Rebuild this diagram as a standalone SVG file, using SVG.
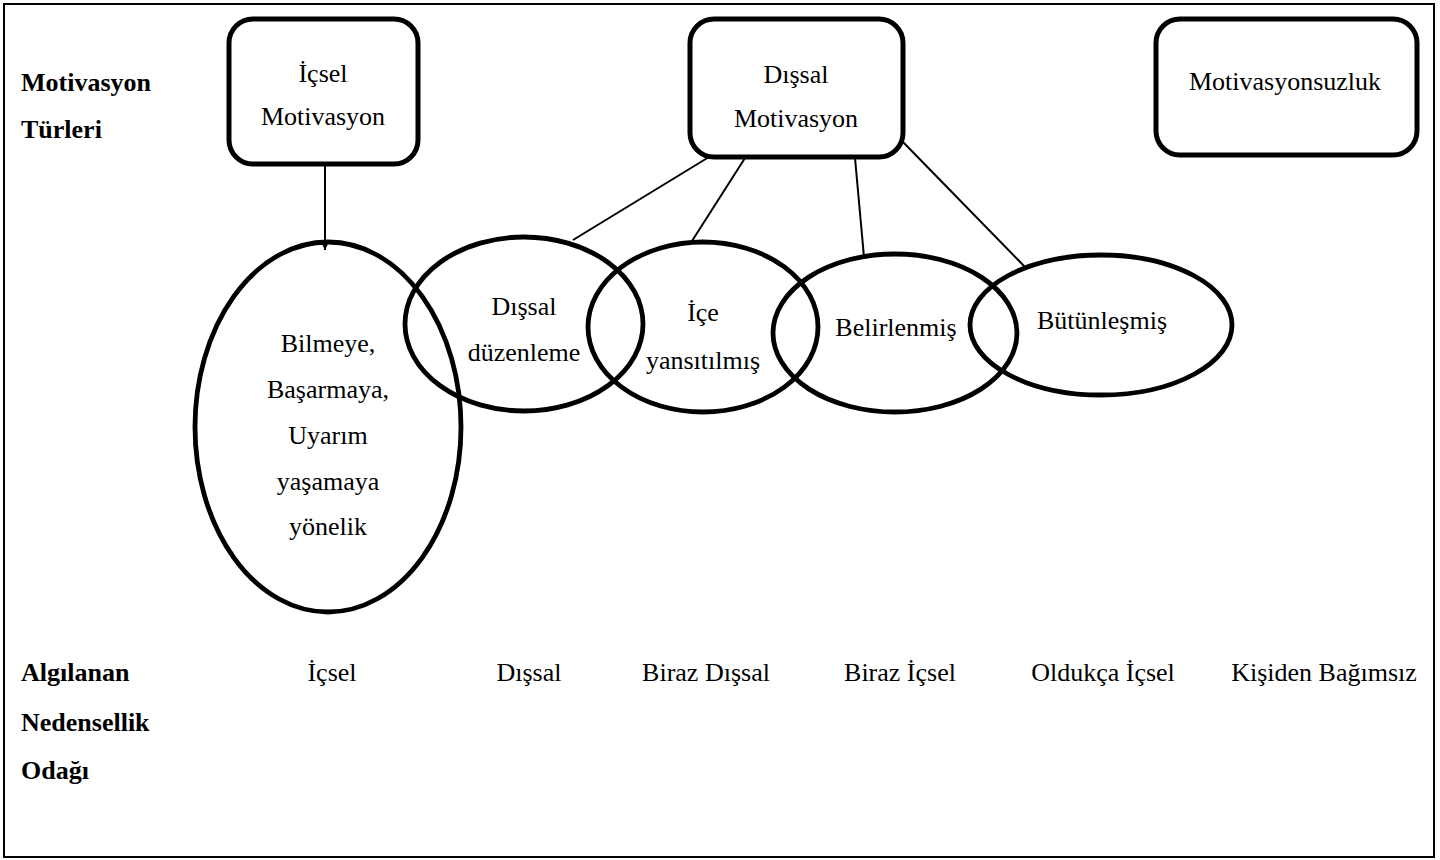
<svg xmlns="http://www.w3.org/2000/svg" width="1440" height="860" viewBox="0 0 1440 860">
<style>
text{font-family:"Liberation Serif","Times New Roman",Times,serif;font-size:26px;fill:#000}
.t{text-anchor:middle}
.b{font-weight:bold}
.box{fill:#fff;stroke:#000;stroke-width:5}
.ell{fill:none;stroke:#000;stroke-width:4.8}
.ln{stroke:#000;stroke-width:2;fill:none}
</style>
<defs>
<marker id="ah" markerWidth="12" markerHeight="12" refX="10" refY="5" orient="auto" markerUnits="userSpaceOnUse">
<path d="M0,0 L10,5 L0,10 Z" fill="#000"/>
</marker>
</defs>
<rect x="0" y="0" width="1440" height="860" fill="#fff"/>
<rect x="4" y="4" width="1430" height="853" fill="none" stroke="#000" stroke-width="2"/>

<g id="labels-left">
<text class="b" x="21" y="91">Motivasyon</text>
<text class="b" x="21" y="138">Türleri</text>
<text class="b" x="21" y="681">Algılanan</text>
<text class="b" x="21" y="731">Nedensellik</text>
<text class="b" x="21" y="779">Odağı</text>
</g>

<g id="connectors">
<line class="ln" x1="325" y1="165" x2="325" y2="250" marker-end="url(#ah)"/>
<line class="ln" x1="709" y1="157" x2="573" y2="240"/>
<line class="ln" x1="745" y1="158" x2="692" y2="241"/>
<line class="ln" x1="855" y1="158" x2="864" y2="257"/>
<line class="ln" x1="903" y1="142" x2="1025" y2="267"/>
</g>

<g id="node-icsel-motivasyon">
<rect class="box" x="229" y="19" width="189" height="145" rx="24"/>
<text class="t" x="323" y="82">İçsel</text>
<text class="t" x="323" y="125">Motivasyon</text>
</g>

<g id="node-dissal-motivasyon">
<rect class="box" x="690" y="19" width="213" height="138" rx="24"/>
<text class="t" x="796" y="83">Dışsal</text>
<text class="t" x="796" y="127">Motivasyon</text>
</g>

<g id="node-motivasyonsuzluk">
<rect class="box" x="1156" y="19" width="261" height="136" rx="24"/>
<text class="t" x="1285" y="90">Motivasyonsuzluk</text>
</g>

<g id="node-bilmeye">
<ellipse class="ell" cx="328" cy="427" rx="133" ry="185"/>
<text class="t" x="328" y="352">Bilmeye,</text>
<text class="t" x="328" y="398">Başarmaya,</text>
<text class="t" x="328" y="444">Uyarım</text>
<text class="t" x="328" y="490">yaşamaya</text>
<text class="t" x="328" y="535">yönelik</text>
</g>

<g id="node-dissal-duzenleme">
<ellipse class="ell" cx="524" cy="324" rx="119" ry="87"/>
<text class="t" x="524" y="315">Dışsal</text>
<text class="t" x="524" y="361">düzenleme</text>
</g>

<g id="node-ice-yansitilmis">
<ellipse class="ell" cx="703" cy="327" rx="115" ry="85"/>
<text class="t" x="703" y="321">İçe</text>
<text class="t" x="703" y="369">yansıtılmış</text>
</g>

<g id="node-belirlenmis">
<ellipse class="ell" cx="895" cy="333" rx="122" ry="79"/>
<text class="t" x="896" y="336">Belirlenmiş</text>
</g>

<g id="node-butunlesmis">
<ellipse class="ell" cx="1101" cy="325" rx="131" ry="70"/>
<text class="t" x="1102" y="329">Bütünleşmiş</text>
</g>

<g id="labels-bottom">
<text class="t" x="332" y="681">İçsel</text>
<text class="t" x="529" y="681">Dışsal</text>
<text class="t" x="706" y="681">Biraz Dışsal</text>
<text class="t" x="900" y="681">Biraz İçsel</text>
<text class="t" x="1103" y="681">Oldukça İçsel</text>
<text class="t" x="1324" y="681">Kişiden Bağımsız</text>
</g>
</svg>
